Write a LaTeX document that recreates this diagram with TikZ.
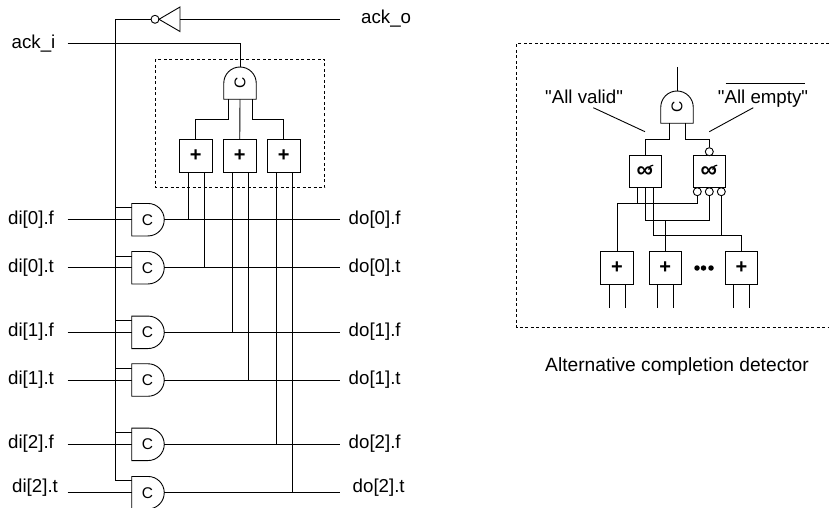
\documentclass[tikz,border=0pt]{standalone}
\usepackage{fontspec}
\newfontfamily\lblfont{Liberation Sans}
\tikzset{
  wire/.style={line width=0.9pt,draw=black},
  gatenode/.style={inner sep=0pt,minimum width=32.5pt,minimum height=32.5pt,font=\lblfont\fontsize{15.5}{16}\selectfont},
  gateline/.style={line width=0.9pt,draw=black,fill=white},
  plusbox/.style={draw,line width=0.9pt,minimum width=32.5pt,minimum height=32.5pt,inner sep=0pt,fill=white,font=\lblfont\fontsize{20}{20}\selectfont\bfseries},
  andbox/.style={draw,line width=0.9pt,minimum width=32.5pt,minimum height=32pt,inner sep=0pt,fill=white},
  lbl/.style={inner sep=0pt,anchor=base west,font=\lblfont\fontsize{18.7}{20}\selectfont},
  bub/.style={circle,draw,line width=0.9pt,fill=white,minimum size=8pt,inner sep=0pt},
  dbox/.style={line width=0.8pt,dash pattern=on 3pt off 2.5pt},
  dotn/.style={circle,fill=black,minimum size=5.5pt,inner sep=0pt}
}
% horizontal C-gate: name, centre y
\newcommand{\hgate}[2]{%
  \draw[gateline] (131.75,#2-16.25) -- (148,#2-16.25) arc[start angle=-90,end angle=90,radius=16.25] -- (131.75,#2+16.25) -- cycle;
  \node[gatenode] (#1) at (147.5,#2) {C};
}
% vertical C-gate: name, centre x, top y
\newcommand{\vgate}[3]{%
  \draw[gateline] (#2-16.25,#3+32.25) -- (#2-16.25,#3+16.25) arc[start angle=180,end angle=360,radius=16.25] -- (#2+16.25,#3+32.25) -- cycle;
  \node[gatenode,rotate=90] (#1) at (#2,#3+16) {C};
}
% and-symbol
\newcommand{\andsym}[3]{%
  \node[andbox] (#1) at (#2,#3) {};
  \node[inner sep=0pt,font=\lblfont\fontsize{23}{23}\selectfont\bfseries] at (#2-0.5,#3+0.5) {∞};
  \draw[line width=1.2pt] (#2+3.5,#3-2) -- (#2+5,#3-5.5) -- (#2+8,#3-6.5);
}
\begin{document}
\begin{tikzpicture}[x=1pt,y=-1pt]
\useasboundingbox (0,0) rectangle (829,508);
\clip (0,0) rectangle (829,508);

% === left circuit ===
\coordinate (ackoL) at (340,19.3);
\coordinate (ackiL) at (67.5,43.3);
\coordinate (en) at (115.7,19.3);
\coordinate (enb) at (115.7,480);
\coordinate (cin) at (240,43.3);

% dashed box
\draw[dbox] (155.5,59.5) rectangle (324.5,187.5);

% inverter
\node[bub] (invb) at (155,19.3) {};
\coordinate (invt) at (159,19.3);
\coordinate (invr) at (180,19.3);
\draw[gateline] (invt) -- (180,7) -- (180,31.5) -- cycle;
\draw[wire] (ackoL) -- (invr);
\draw[wire] (invb) -- (en) -- (enb) -- (131.75,480);

% wires under the gates
\foreach \y/\e in {219.7/207.3,267.7/256,332.3/320,380/368,444.3/432,492.7/480}{
  \draw[wire] (67.5,\y) -- (131.75,\y);
  \draw[wire] (115.7,\e) -- (131.75,\e);
}

% gates
\hgate{g0}{219.7}
\hgate{g1}{267.7}
\hgate{g2}{332.3}
\hgate{g3}{380}
\hgate{g4}{444.3}
\hgate{g5}{492.7}
\vgate{gc}{240}{67}

% plus boxes
\node[plusbox] (p0) at (195.75,155.75) {+};
\node[plusbox] (p1) at (239.75,155.75) {+};
\node[plusbox] (p2) at (283.75,155.75) {+};

\draw[wire] (ackiL) -- (cin) -- (gc.east);
\draw[wire] (228,99.3) -- (228,119) -| (p0.north);
\draw[wire] (240,99.3) -- (p1.north);
\draw[wire] (252,99.3) -- (252,119) -| (p2.north);

% outputs
\foreach \n/\y in {g0/219.7,g1/267.7,g2/332.3,g3/380,g4/444.3,g5/492.7}{
  \coordinate (out\n) at (340,\y);
  \draw[wire] (164.25,\y) -- (out\n);
}
% completion legs
\foreach \x/\g in {188/g0,204/g1,232/g2,248/g3,276/g4,292/g5}{
  \draw[wire] (\x,172) -- (\x,0 |- \g.east);
}

% labels
\node[lbl] at (11.5,49) {ack\_i};
\node[lbl] at (361,24) {ack\_o};
\node[lbl] (l0) at (8,224.5) {di[0].f};
\node[lbl] (l1) at (8,272.5) {di[0].t};
\node[lbl] (l2) at (8,336.5) {di[1].f};
\node[lbl] (l3) at (8,384.5) {di[1].t};
\node[lbl] (l4) at (8,448.5) {di[2].f};
\node[lbl] (l5) at (12,492) {di[2].t};
\node[lbl] (r0) at (348.5,224.5) {do[0].f};
\node[lbl] (r1) at (348.5,272.5) {do[0].t};
\node[lbl] (r2) at (348.5,336.5) {do[1].f};
\node[lbl] (r3) at (348.5,384.5) {do[1].t};
\node[lbl] (r4) at (348.5,448.5) {do[2].f};
\node[lbl] (r5) at (352.5,492) {do[2].t};

% === right circuit ===
\draw[dbox] (829,43.3) -- (516.7,43.3) -- (516.7,327.7) -- (829,327.7);
\coordinate (top) at (677,67);
\vgate{gd}{677}{91}
\draw[wire] (top) -- (gd.east);
\andsym{av}{645.2}{171.7}
\andsym{ae}{709.2}{171.7}
\node[bub] (ab) at (709.3,151.7) {};
\node[bub] (b1) at (697.3,191.7) {};
\node[bub] (b2) at (709.3,191.7) {};
\node[bub] (b3) at (721.3,191.7) {};
\node[plusbox] (q0) at (617,268) {+};
\node[plusbox] (q1) at (665.3,268) {+};
\node[plusbox] (q2) at (741.5,268) {+};
\draw[wire] (669,123.3) -- (669,139.3) -| (av.north);
\draw[wire] (685.3,123.3) -- (685.3,139.3) -| (ab.north);
\draw[wire] (b1.south) -- (697.3,203.7) -| (q0.north);
\draw[wire] (637,187.7) -- (637,203.7);
\draw[wire] (b2.south) -- (709.3,220) -| (645,187.7);
\draw[wire] (q1.north) -- (665.3,220);
\draw[wire] (b3.south) -- (721.3,235.7);
\draw[wire] (653,187.7) -- (653,235.7) -| (q2.north);
\foreach \x in {609,625,657,673,733.3,749.3}{
  \draw[wire] (\x,284) -- (\x,308);
}
\node[dotn] (d1) at (697,268) {};
\node[dotn] (d2) at (703.5,268) {};
\node[dotn] (d3) at (711,268) {};

\node[lbl] (allv) at (545,103) {"All valid"};
\node[lbl] (alle) at (717.7,103) {"All empty"};
\draw[wire] (725.7,83.3) -- (805,83.3);
\draw[wire] (593.3,107.7) -- (645,131.7);
\draw[wire] (753.3,107.7) -- (709.3,131.7);
\node[lbl] (cap) at (545,371) {\fontsize{19.2}{20}\selectfont Alternative completion detector};
\end{tikzpicture}
\end{document}
